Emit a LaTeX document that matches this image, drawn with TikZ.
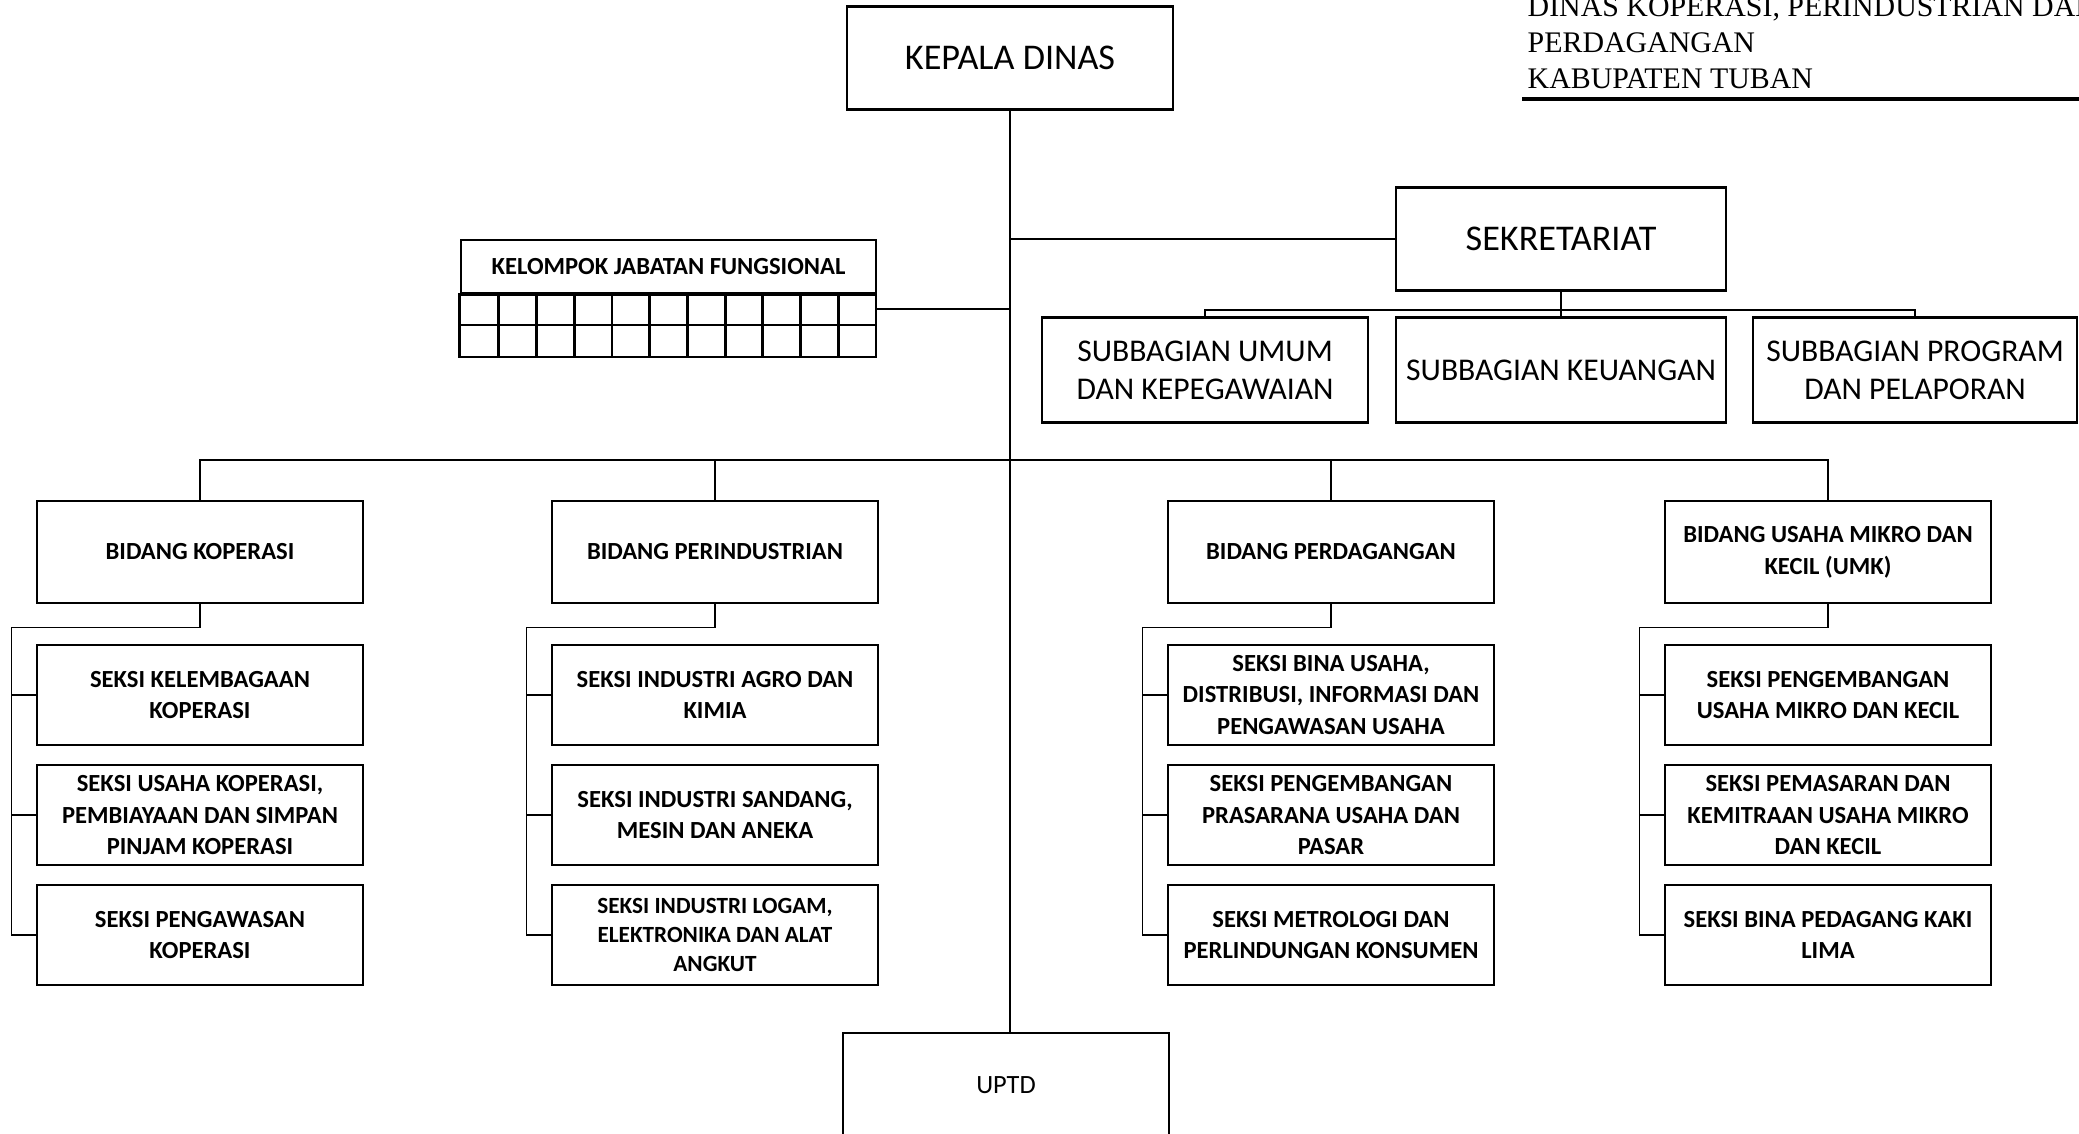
\documentclass[tikz,border=0pt]{standalone}
\usepackage{fontspec}
\setmainfont{Carlito}
\newfontfamily\kopserif{Liberation Serif}
\usetikzlibrary{positioning}

\tikzset{
  kotak/.style={draw, line width=0.8pt, align=center, inner sep=0pt,
    minimum width=32.6mm, minimum height=10mm},
  seksi/.style={kotak, font=\bfseries\fontsize{7}{9}\selectfont},
  besar/.style={kotak, minimum height=10.3mm, font=\fontsize{10.3}{12}\selectfont},
  subbag/.style={kotak, minimum height=10.5mm, font=\fontsize{9}{10.8}\selectfont},
  garis/.style={line width=0.5pt},
}

\begin{document}
\begin{tikzpicture}[x=0.1mm,y=-0.1mm]
\useasboundingbox (0,0) rectangle (2079,1133);

% judul kanan atas
\node[anchor=north west, align=left, inner sep=0pt,
  font=\kopserif\fontsize{8.5}{10.2}\selectfont] (judul) at (1527,-4)
  {DINAS KOPERASI, PERINDUSTRIAN DAN\\PERDAGANGAN\\KABUPATEN TUBAN};
\draw[line width=1.2pt] (1522,99) coordinate (garisjudul) -- (2079,99);

% pimpinan dan sekretariat
\node[besar] (kepala) at (1010,58) {KEPALA DINAS};
\node[besar, minimum width=33mm] (sekre) at (1561,239) {SEKRETARIAT};
\node[subbag] (umum) at (1205,370) {SUBBAGIAN UMUM\\DAN KEPEGAWAIAN};
\node[subbag, minimum width=33mm] (keuangan) at (1561,370) {SUBBAGIAN KEUANGAN};
\node[subbag, minimum width=32.4mm] (program) at (1915,370) {SUBBAGIAN PROGRAM\\DAN PELAPORAN};

% kelompok jabatan fungsional
\node[kotak, minimum width=41.5mm, minimum height=5.3mm,
  font=\bfseries\fontsize{7}{8}\selectfont] (kjf) at (668.5,266.5)
  {KELOMPOK JABATAN FUNGSIONAL};
\draw[line width=0.8pt] (kjf.south west) rectangle (876,357);
\draw[line width=0.8pt] (461,325) -- (876,325);
\foreach \i in {1,...,10}
  \draw[line width=0.8pt] (461+37.727*\i,293) -- (461+37.727*\i,357);
\coordinate (kjfkanan) at (876,309);

% bidang
\node[seksi, minimum height=10.2mm] (bkop) at (200,552) {BIDANG KOPERASI};
\node[seksi, minimum height=10.2mm] (bind) at (715,552) {BIDANG PERINDUSTRIAN};
\node[seksi, minimum height=10.2mm] (bdag) at (1331,552) {BIDANG PERDAGANGAN};
\node[seksi, minimum height=10.2mm] (bumk) at (1828,552) {BIDANG USAHA MIKRO DAN\\KECIL (UMK)};

% seksi
\node[seksi] (kop1) at (200,695) {SEKSI KELEMBAGAAN\\KOPERASI};
\node[seksi, below=1.72mm of kop1] (kop2) {SEKSI USAHA KOPERASI,\\PEMBIAYAAN DAN SIMPAN\\PINJAM KOPERASI};
\node[seksi, below=1.72mm of kop2] (kop3) {SEKSI PENGAWASAN\\KOPERASI};

\node[seksi] (ind1) at (715,695) {SEKSI INDUSTRI AGRO DAN\\KIMIA};
\node[seksi, below=1.72mm of ind1] (ind2) {SEKSI INDUSTRI SANDANG,\\MESIN DAN ANEKA};
\node[seksi, below=1.72mm of ind2, font=\bfseries\fontsize{6.6}{8.3}\selectfont] (ind3)
  {SEKSI INDUSTRI LOGAM,\\ELEKTRONIKA DAN ALAT\\ANGKUT};

\node[seksi] (dag1) at (1331,695) {SEKSI BINA USAHA,\\DISTRIBUSI, INFORMASI DAN\\PENGAWASAN USAHA};
\node[seksi, below=1.72mm of dag1] (dag2) {SEKSI PENGEMBANGAN\\PRASARANA USAHA DAN\\PASAR};
\node[seksi, below=1.72mm of dag2] (dag3) {SEKSI METROLOGI DAN\\PERLINDUNGAN KONSUMEN};

\node[seksi] (umk1) at (1828,695) {SEKSI PENGEMBANGAN\\USAHA MIKRO DAN KECIL};
\node[seksi, below=1.72mm of umk1] (umk2) {SEKSI PEMASARAN DAN\\KEMITRAAN USAHA MIKRO\\DAN KECIL};
\node[seksi, below=1.72mm of umk2] (umk3) {SEKSI BINA PEDAGANG KAKI\\LIMA};

\node[kotak, minimum height=10.4mm, font=\fontsize{7.5}{9}\selectfont] (uptd) at (1006,1085) {UPTD};

% garis komando
\draw[garis] (kepala.south) -- (kepala.south |- uptd.north);
\draw[garis] (kjfkanan) -- (kjfkanan -| kepala.south);
\draw[garis] (sekre.west) -- (sekre.west -| kepala.south);
\draw[garis] (sekre.south) -- ++(0,18) coordinate (bussub);
\draw[garis] (umum.north) |- (bussub) -| (program.north);
\draw[garis] (keuangan.north) -- (bussub);
\coordinate (busbid) at (1010,460);
\draw[garis] (bkop.north) |- (busbid) -| (bumk.north);
\draw[garis] (bind.north) -- (bind.north |- busbid);
\draw[garis] (bdag.north) -- (bdag.north |- busbid);
\foreach \b in {kop,ind,dag,umk} {
  \draw[garis] (b\b.south) -- ++(0,23) -| ([xshift=-2.4mm]\b3.west) -- (\b3.west);
  \draw[garis] (\b1.west) -- ++(-24,0);
  \draw[garis] (\b2.west) -- ++(-24,0);
}
\end{tikzpicture}
\end{document}
